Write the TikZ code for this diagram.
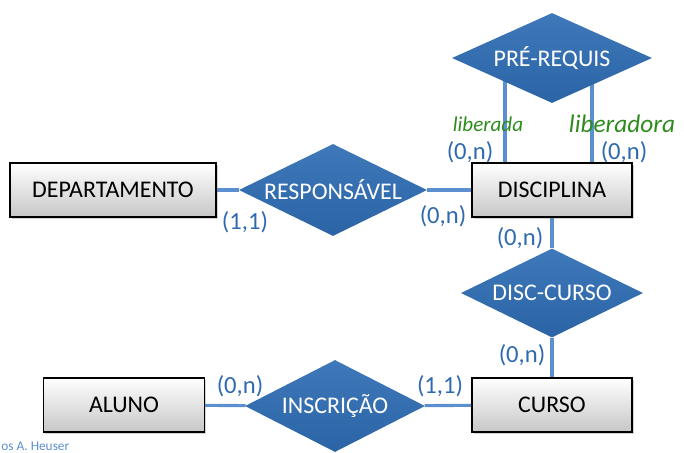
\documentclass[tikz,border=0pt]{standalone}
\usepackage{fontspec}
\setmainfont{Carlito}
\usepackage{tikz}
\usetikzlibrary{shapes.geometric,shadows,calc,backgrounds}

\definecolor{erblue}{HTML}{2E6DB4}
\definecolor{linkblue}{HTML}{5B8FCF}
\definecolor{cardblue}{HTML}{2F6AB0}
\definecolor{rolegreen}{HTML}{2E8B1E}

\tikzset{
  entity/.style={draw=black, line width=0.8pt, top color=white, bottom color=black!22,
    minimum height=1.35cm, inner sep=0pt, font=\fontsize{17}{20}\selectfont,
    drop shadow={shadow xshift=1.2pt, shadow yshift=-1.2pt, opacity=0.35}},
  relship/.style={diamond, aspect=2.5, draw=none, top color=erblue!92!white, bottom color=erblue!92!black,
    inner sep=0pt, text=white, font=\fontsize{17}{20}\selectfont},
  link/.style={draw=linkblue, line width=2.2pt},
  card/.style={text=cardblue, font=\fontsize{17.5}{20}\selectfont},
  role/.style={text=rolegreen, font=\itshape}
}

\begin{document}
\begin{tikzpicture}[x=0.025cm, y=-0.025cm]
  \useasboundingbox (0,0) rectangle (684,453);

  % Entities
  \node[entity, minimum width=5.15cm] (dep) at (113,190) {DEPARTAMENTO};
  \node[entity, minimum width=4cm] (disc) at (552,190) {DISCIPLINA};
  \node[entity, minimum width=4cm] (curso) at (552,405) {CURSO};
  \node[entity, minimum width=4.025cm] (aluno) at (124,405) {ALUNO};

  % Relationships
  \node[relship, minimum width=4.675cm, minimum height=2.3cm] (resp) at (333,190) {RESPONSÁVEL};
  \node[relship, minimum width=5cm, minimum height=2.25cm] (prereq) at (552,58) {PRÉ-REQUIS};
  \node[relship, minimum width=4.55cm, minimum height=2.225cm] (disccurso) at (552,293) {DISC-CURSO};
  \node[relship, minimum width=4.5cm, minimum height=2.3cm] (inscr) at (335,406) {INSCRIÇÃO};

  % Links
  \begin{scope}[on background layer]
    \draw[link] (dep) -- (resp) -- (disc);
    \draw[link] (disc) -- (disccurso) -- (curso);
    \draw[link] (aluno) -- (inscr) -- (curso);
    \draw[link] ($(disc.north)+(-47,0)$) -- ($(prereq.center)+(-47,0)$);
    \draw[link] ($(disc.north)+(40,0)$) -- ($(prereq.center)+(40,0)$);
  \end{scope}

  % Cardinalities
  \node[card] (c1) at (245,222) {(1,1)};
  \node[card] (c2) at (443,216) {(0,n)};
  \node[card] (c3) at (470,152) {(0,n)};
  \node[card] (c4) at (624,152) {(0,n)};
  \node[card] (c5) at (520,238) {(0,n)};
  \node[card] (c6) at (522,355) {(0,n)};
  \node[card] (c7) at (240,386) {(0,n)};
  \node[card] (c8) at (440,386) {(1,1)};

  % Roles
  \node[role, font=\itshape\fontsize{15}{18}\selectfont] (r1) at (488,124) {liberada};
  \node[role, font=\itshape\fontsize{18}{21}\selectfont] (r2) at (622,124) {liberadora};

  \node[anchor=west, inner sep=0pt, text=linkblue, font=\fontsize{9.5}{11}\selectfont] (auth) at (1,446) {os A. Heuser};
\end{tikzpicture}
\end{document}
